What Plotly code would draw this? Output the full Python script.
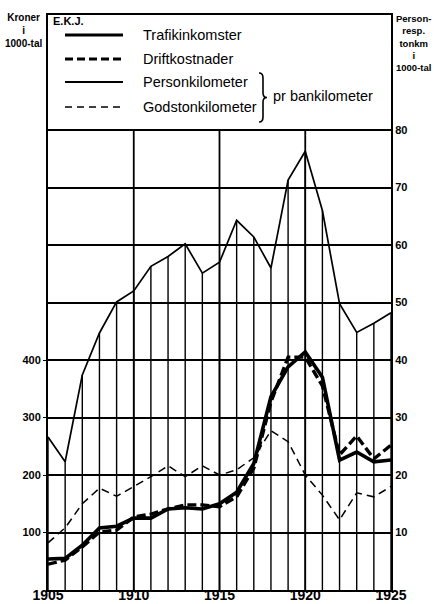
import plotly.graph_objects as go

years = list(range(1905, 1926))
trafikinkomster = [54, 55, 78, 108, 111, 125, 125, 141, 143, 141, 150, 170, 220, 336, 388, 414, 370, 226, 240, 223, 226]
driftkostnader = [45, 52, 75, 101, 104, 127, 132, 141, 148, 148, 145, 162, 212, 327, 405, 405, 355, 235, 268, 228, 252]
personkilometer = [26.6, 22.3, 37.4, 44.7, 50.1, 52, 56.3, 58, 60.2, 55.1, 57, 64.3, 61.4, 56, 71.3, 76.3, 66, 49.8, 44.8, 46.4, 48.2]
godstonkilometer = [8.2, 10.8, 15, 17.7, 16.3, 18, 19.7, 21.6, 19.7, 21.6, 20.0, 20.9, 23, 27.7, 25.8, 20, 16.5, 12.2, 16.9, 16.2, 18]

x_ticks = [1905, 1910, 1915, 1920, 1925]
left_ticks = [100, 200, 300, 400]
right_ticks = [10, 20, 30, 40, 50, 60, 70, 80]

FONT = "Liberation Sans"
W, H = 434, 604
ML, MR, MT, MB = 48, 43, 15, 14
PW, PH = W - ML - MR, H - MT - MB


def px(X):
    return (X - ML) / PW


def py(Y):
    return (H - MB - Y) / PH


fig = go.Figure()

# drop lines from the base to the Personkilometer curve
dx, dy = [], []
for yr, v in zip(years, personkilometer):
    dx += [yr, yr, None]
    dy += [0, v, None]
fig.add_trace(go.Scatter(x=dx, y=dy, yaxis="y2", mode="lines",
                         line=dict(color="black", width=1.4),
                         showlegend=False, hoverinfo="skip"))

# major vertical lines
for yr in x_ticks[1:-1]:
    fig.add_shape(type="line", xref="x", yref="y2", x0=yr, x1=yr, y0=0, y1=80,
                  line=dict(color="black", width=1.8), layer="below")

series = [
    ("Trafikinkomster", years, trafikinkomster, "y", dict(color="black", width=3.6)),
    ("Driftkostnader", years, driftkostnader, "y", dict(color="black", width=3.4, dash="9px,4px")),
    ("Personkilometer", years, personkilometer, "y2", dict(color="black", width=1.7)),
    ("Godstonkilometer", years, godstonkilometer, "y2", dict(color="black", width=1.5, dash="8px,5px")),
]
for name, xs, ys, ax, ln in series:
    fig.add_trace(go.Scatter(x=xs, y=ys, name=name, mode="lines", yaxis=ax, line=ln,
                             showlegend=False))

# hand-drawn legend (matching the boxed key of the original)
legend_rows = [35, 59, 82, 107]
legend_lines = [
    dict(color="black", width=3.2),
    dict(color="black", width=3.0, dash="8px,4px"),
    dict(color="black", width=1.8),
    dict(color="black", width=1.5, dash="7px,5px"),
]
for (name, _, _, _, _), row, ln in zip(series, legend_rows, legend_lines):
    fig.add_shape(type="line", xref="paper", yref="paper", x0=px(65), x1=px(123),
                  y0=py(row), y1=py(row), line=ln)
    fig.add_annotation(text=name, xref="paper", yref="paper", x=px(141), y=py(row),
                       xanchor="left", yanchor="middle", showarrow=False,
                       font=dict(size=14.5, family=FONT))

# brace
pts = [(259, 73), (263, 73), (263, 78), (263, 93), (263, 97.5), (267, 97.5),
       (263, 97.5), (263, 102), (263, 117), (263, 122), (259, 122)]
P = [f"{px(a):.5f},{py(b):.5f}" for a, b in pts]
path = (f"M {P[0]} Q {P[1]} {P[2]} L {P[3]} Q {P[4]} {P[5]} "
        f"Q {P[6]} {P[7]} L {P[8]} Q {P[9]} {P[10]}")
fig.add_shape(type="path", xref="paper", yref="paper", path=path,
              line=dict(color="black", width=1.6))
fig.add_annotation(text="pr bankilometer", xref="paper", yref="paper", x=px(271), y=py(96),
                   xanchor="left", yanchor="middle", showarrow=False, font=dict(size=14.5, family=FONT))

fig.update_layout(
    width=W, height=H,
    margin=dict(l=ML, r=MR, t=MT, b=MB),
    paper_bgcolor="white", plot_bgcolor="white",
    font=dict(family=FONT, color="black"),
    showlegend=False,
    xaxis=dict(range=[1905, 1925], tickvals=x_ticks, ticktext=[str(t) for t in x_ticks],
               showgrid=False, zeroline=False, showline=True, mirror=True, automargin=False,
               linecolor="black", linewidth=2, ticks="", ticklen=0, ticklabelstandoff=-9,
               tickfont=dict(size=14, family=FONT, weight="bold")),
    yaxis=dict(range=[0, 1000], tickvals=left_ticks, ticktext=[str(t) for t in left_ticks],
               showgrid=False, zeroline=False, showline=True, linecolor="black", linewidth=2,
               automargin=False, ticks="outside", ticklen=3, tickcolor="black", tickwidth=1.2,
               tickfont=dict(size=11, family=FONT, weight="bold")),
    yaxis2=dict(range=[0, 100], overlaying="y", side="right", tickvals=right_ticks,
                ticktext=[str(t) for t in right_ticks], automargin=False,
                showgrid=True, gridcolor="black", gridwidth=1.5, zeroline=False,
                showline=True, linecolor="black", linewidth=2, ticks="", ticklen=0,
                tickfont=dict(size=11, family=FONT, weight="bold")),
)

fig.add_annotation(text="<b>E.K.J.</b>", xref="paper", yref="paper", x=px(51), y=py(13),
                   xanchor="left", yanchor="top", showarrow=False, font=dict(size=11, family=FONT))
fig.add_annotation(text="<b>Kroner<br>i<br>1000-tal</b>", xref="paper", yref="paper", x=px(23), y=py(10),
                   xanchor="center", yanchor="top", showarrow=False, font=dict(size=10, family=FONT))
fig.add_annotation(text="<b>Person-<br>resp.<br>tonkm<br>i<br>1000-tal</b>", xref="paper", yref="paper",
                   x=px(433), y=py(11), xanchor="right", yanchor="top", showarrow=False, align="center",
                   font=dict(size=9.5, family=FONT))

fig.write_html("out.html", config={"displayModeBar": False},
               post_script="document.body.style.margin='0';")
